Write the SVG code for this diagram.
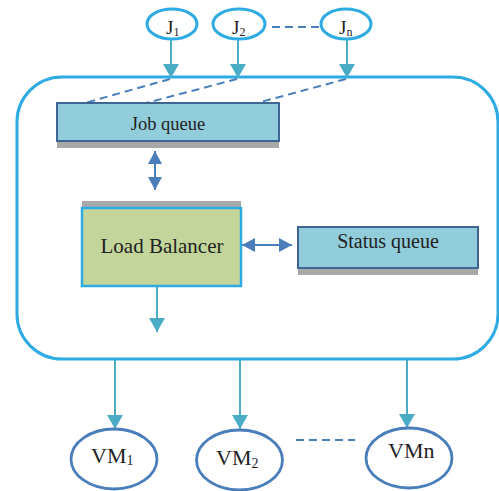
<svg xmlns="http://www.w3.org/2000/svg" width="499" height="491" viewBox="0 0 499 491">
<style>
  text { font-family: "Liberation Serif", "Times New Roman", serif; fill: #222; }
  .jell { fill: #fff; stroke: #2eabe2; stroke-width: 3; }
  .vmell { fill: #fff; stroke: #4a7ebb; stroke-width: 2.8; }
  .queue { fill: #92cddc; stroke: #3e6593; stroke-width: 2; }
  .shadow { fill: #a8a8a8; }
  .teal { stroke: #4bacc6; stroke-width: 2; fill: none; }
  .blue { stroke: #4a7ebb; stroke-width: 2; fill: none; }
  .dash { stroke: #4a7ebb; stroke-width: 2; fill: none; stroke-dasharray: 8 5; }
</style>
<defs>
  <marker id="tealHead" markerWidth="8" markerHeight="8" refX="7" refY="4" orient="auto" markerUnits="userSpaceOnUse" viewBox="0 0 8 8">
    <path d="M0,0 L8,4 L0,8 Z" fill="#4bacc6"/>
  </marker>
  <marker id="tealBig" viewBox="0 0 14 16" refX="14" refY="8" markerWidth="14" markerHeight="16" orient="auto" markerUnits="userSpaceOnUse">
    <path d="M0,0 L14,8 L0,16 Z" fill="#4bacc6"/>
  </marker>
  <marker id="blueHead" viewBox="0 0 13 14" refX="13" refY="7" markerWidth="13" markerHeight="14" orient="auto-start-reverse" markerUnits="userSpaceOnUse">
    <path d="M0,0 L13,7 L0,14 Z" fill="#4a7ebb"/>
  </marker>
</defs>

<g id="container">
  <rect x="17" y="77" width="481" height="282" rx="45" ry="45" fill="none" stroke="#2eabe2" stroke-width="3"/>
</g>

<g id="connectors">
  <line class="teal" x1="171" y1="40" x2="171" y2="78" marker-end="url(#tealBig)"/>
  <line class="teal" x1="238" y1="40" x2="238" y2="78" marker-end="url(#tealBig)"/>
  <line class="teal" x1="347" y1="40" x2="347" y2="78" marker-end="url(#tealBig)"/>
  <line class="dash" x1="170" y1="79" x2="85" y2="103"/>
  <line class="dash" x1="237" y1="79" x2="146" y2="103"/>
  <line class="dash" x1="346" y1="79" x2="257" y2="103"/>
  <line class="dash" x1="272" y1="27" x2="322" y2="27"/>
  <line class="blue" x1="155" y1="151" x2="155" y2="190" marker-start="url(#blueHead)" marker-end="url(#blueHead)"/>
  <line class="blue" x1="242" y1="245" x2="292" y2="245" marker-start="url(#blueHead)" marker-end="url(#blueHead)"/>
  <line class="teal" x1="157" y1="287" x2="157" y2="332" marker-end="url(#tealBig)"/>
  <line class="teal" x1="115" y1="360" x2="115" y2="429" marker-end="url(#tealBig)"/>
  <line class="teal" x1="240" y1="360" x2="240" y2="429" marker-end="url(#tealBig)"/>
  <line class="teal" x1="407" y1="360" x2="407" y2="428" marker-end="url(#tealBig)"/>
  <line class="dash" x1="296" y1="440" x2="355" y2="440"/>
</g>

<g id="J1">
  <ellipse class="jell" cx="172" cy="24" rx="25" ry="15"/>
  <text x="166" y="34" font-size="19">J<tspan font-size="12" dy="2">1</tspan></text>
</g>
<g id="J2">
  <ellipse class="jell" cx="239" cy="24" rx="26" ry="15"/>
  <text x="232" y="34" font-size="19">J<tspan font-size="12" dy="2">2</tspan></text>
</g>
<g id="Jn">
  <ellipse class="jell" cx="346" cy="24" rx="25" ry="15"/>
  <text x="339" y="34" font-size="19">J<tspan font-size="12" dy="2">n</tspan></text>
</g>

<g id="job-queue">
  <rect class="shadow" x="57" y="142" width="222" height="6"/>
  <rect class="queue" x="57" y="103" width="222" height="38"/>
  <text x="168" y="130" font-size="18.5" text-anchor="middle">Job queue</text>
</g>

<g id="load-balancer">
  <rect class="shadow" x="82" y="201" width="159" height="6"/>
  <rect x="82" y="208" width="159" height="78" fill="#c4d59b" stroke="#2eabe2" stroke-width="2.5"/>
  <text x="162" y="253" font-size="21" text-anchor="middle">Load Balancer</text>
</g>

<g id="status-queue">
  <rect class="shadow" x="298" y="269" width="180" height="6"/>
  <rect class="queue" x="298" y="227" width="180" height="41"/>
  <text x="388" y="248" font-size="20" text-anchor="middle">Status queue</text>
</g>

<g id="VM1">
  <ellipse class="vmell" cx="114" cy="459" rx="43" ry="30"/>
  <text x="91" y="463" font-size="22">VM<tspan font-size="14" dy="2">1</tspan></text>
</g>
<g id="VM2">
  <ellipse class="vmell" cx="239.5" cy="460" rx="43" ry="30"/>
  <text x="216" y="465" font-size="22">VM<tspan font-size="14" dy="3">2</tspan></text>
</g>
<g id="VMn">
  <ellipse class="vmell" cx="409" cy="458" rx="43" ry="30"/>
  <text x="388" y="458" font-size="22">VMn</text>
</g>
</svg>
